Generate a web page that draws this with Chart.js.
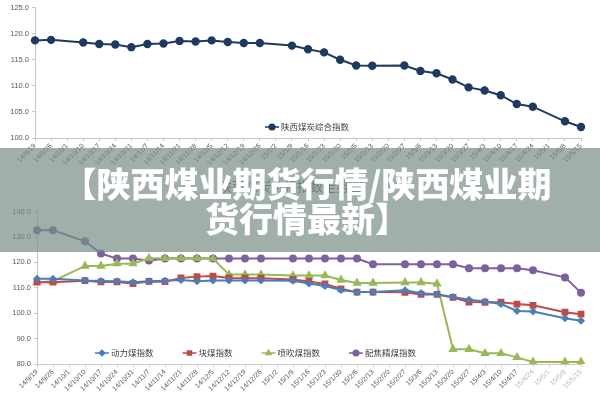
<!DOCTYPE html>
<html lang="zh-CN">
<head>
<meta charset="UTF-8">
<title>陕西煤业期货行情</title>
<style>
  body { margin: 0; background: #fff; }
  #wrap { position: relative; width: 600px; height: 400px; overflow: hidden; }
  #wrap canvas { position: absolute; left: 0; }
  #banner {
    position: absolute; left: 0; top: 148px; width: 600px; height: 104px;
    background: rgba(120, 142, 132, 0.7);
    color: #fff; font-family: "Noto Sans CJK SC", sans-serif; font-weight: 900;
    font-size: 34px; line-height: 35px; text-align: center;
    box-sizing: border-box; padding: 17px 0 0 14px;
  }
</style>
</head>
<body>
<div id="wrap">
  <canvas id="topChart" width="600" height="170" style="top:0"></canvas>
  <canvas id="botChart" width="600" height="230" style="top:170px"></canvas>
  <div id="banner">【陕西煤业期货行情/陕西煤业期<br>货行情最新】</div>
</div>

<script src="https://cdn.jsdelivr.net/npm/chart.js"></script>
<script>
// categorias (semanas)
const datas = ['14/9/19','14/9/26','14/10/1','14/10/10','14/10/17','14/10/24','14/10/31','14/11/7','14/11/14','14/11/21',
  '14/11/28','14/12/5','14/12/12','14/12/19','14/12/26','15/1/2','15/1/9','15/1/16','15/1/23','15/1/30',
  '15/2/6','15/2/13','15/2/20','15/2/27','15/3/6','15/3/13','15/3/20','15/3/27','15/4/3','15/4/10',
  '15/4/17','15/4/24','15/5/1','15/5/8','15/5/15'];

// grafico de cima
const zonghe = [118.7,118.8,null,118.3,118.0,117.9,117.4,118.0,118.1,118.6,
  118.5,118.7,118.4,118.2,118.2,null,117.7,117.0,116.4,115.0,
  113.9,113.85,null,113.9,112.85,112.4,111.2,109.7,109.1,108.2,
  106.5,106.0,null,103.2,102.1];

// grafico de baixo
const dongli = [113.6,113.6,null,112.9,112.7,112.6,112.2,112.6,112.8,113.1,
  112.6,112.9,112.9,112.9,112.9,null,112.8,111.7,110.7,109.1,
  108.3,108.3,null,109.0,107.9,107.5,106.4,105.3,104.6,103.6,
  100.9,100.7,null,98.0,97.0];
const kuai = [112.2,112.2,null,112.8,112.3,112.3,111.7,112.5,112.4,113.9,
  114.4,114.6,113.9,113.8,113.8,null,113.3,112.5,111.5,109.6,
  108.3,108.3,null,108.2,107.4,107.4,106.2,104.4,104.3,104.3,
  103.6,103.1,null,100.4,99.6];
const penchui = [112.2,112.6,null,118.6,118.6,119.5,119.5,121.6,121.6,121.6,
  121.6,121.5,115.2,115.2,115.2,null,114.8,114.8,114.8,113.1,
  111.9,111.9,null,112.1,112.1,111.6,85.8,85.8,84.2,84.2,
  82.6,80.8,null,80.8,80.8];
const peijiao = [132.7,132.7,null,128.3,123.5,121.5,121.5,120.7,121.5,121.5,
  121.5,121.5,121.5,121.5,121.5,null,121.5,121.5,121.5,121.5,
  121.5,119.3,null,119.3,119.3,119.3,119.3,117.7,117.7,117.7,
  117.7,116.9,null,114.1,108.1];

const tickFont = { family: 'Liberation Sans', size: 7 };
const cinza = '#595959';
const eixo = '#c8c8c8';

// legenda desenhada dentro da area do grafico
const legendaDentro = {
  id: 'legendaDentro',
  afterDraw(chart, args, opts) {
    const ctx = chart.ctx;
    let x = opts.x;
    const y = chart.chartArea.bottom - opts.dy;
    ctx.save();
    ctx.font = '8.5px "Noto Sans CJK SC"';
    ctx.textBaseline = 'middle';
    chart.data.datasets.forEach(ds => {
      ctx.strokeStyle = ds.borderColor;
      ctx.lineWidth = 1.5;
      ctx.beginPath(); ctx.moveTo(x, y); ctx.lineTo(x + 14, y); ctx.stroke();
      ctx.fillStyle = ds.pointBackgroundColor;
      Chart.helpers.drawPoint(ctx, { pointStyle: ds.pointStyle, radius: 2.8, rotation: 0, borderWidth: 1 }, x + 7, y);
      ctx.fillStyle = '#404040';
      ctx.fillText(ds.label, x + 16, y);
      x += 16 + ctx.measureText(ds.label).width + opts.gap;
    });
    ctx.restore();
  }
};

function serie(label, data, cor, estilo, raio) {
  return {
    label, data,
    borderColor: cor, backgroundColor: cor,
    pointBackgroundColor: cor, pointBorderColor: cor,
    pointStyle: estilo, pointRadius: raio, pointHoverRadius: raio,
    borderWidth: 2, spanGaps: true, tension: 0
  };
}

function eixoX(altura, cores) {
  return {
    offset: false,
    grid: { drawOnChartArea: false, drawTicks: true, tickLength: 3, color: eixo },
    border: { color: eixo },
    ticks: { font: tickFont, color: cores, minRotation: 45, maxRotation: 45, autoSkip: false, padding: 1 },
    afterFit: s => { s.height = altura; }
  };
}

function eixoY(min, max, passo, largura) {
  return {
    min, max,
    grid: { drawOnChartArea: false, drawTicks: true, tickLength: 3, color: eixo },
    border: { color: eixo },
    ticks: { stepSize: passo, font: { family: 'Liberation Sans', size: 7.5 }, color: cinza, padding: 3,
             callback: v => v.toFixed(1) },
    afterFit: s => { s.width = largura; }
  };
}

new Chart(document.getElementById('topChart'), {
  type: 'line',
  data: {
    labels: datas,
    datasets: [serie('陕西煤炭综合指数', zonghe, '#1f3a5f', 'circle', 3.2)]
  },
  options: {
    responsive: false, animation: false,
    layout: { padding: { top: 0, right: 19, left: 0, bottom: 0 } },
    plugins: { legend: { display: false }, tooltip: { enabled: false },
      legendaDentro: { x: 265, dy: 11, gap: 30 } },
    scales: { x: eixoX(32, cinza), y: eixoY(100, 125, 5, 35) }
  },
  plugins: [legendaDentro]
});

const coresBaixo = datas.map((d, i) => i >= 31 ? '#b8b8b8' : cinza);

new Chart(document.getElementById('botChart'), {
  type: 'line',
  data: {
    labels: datas,
    datasets: [
      serie('动力煤指数', dongli, '#4a7ebb', 'rectRot', 2.6),
      serie('块煤指数', kuai, '#be4b48', 'rect', 3.4),
      serie('喷吹煤指数', penchui, '#98b954', 'triangle', 3.4),
      serie('配焦精煤指数', peijiao, '#7d60a0', 'circle', 3)
    ]
  },
  options: {
    responsive: false, animation: false,
    layout: { padding: { top: 0, right: 19, left: 0, bottom: 0 } },
    plugins: {
      legend: { display: false }, tooltip: { enabled: false },
      title: { display: true, text: '陕西煤炭价格指数走势图', color: cinza,
               font: { family: 'Noto Sans CJK SC', size: 13, weight: 'normal' },
               padding: { top: 8, bottom: 18 } },
      legendaDentro: { x: 95, dy: 11, gap: 29 }
    },
    scales: { x: eixoX(36, coresBaixo), y: eixoY(80, 140, 10, 37) }
  },
  plugins: [legendaDentro]
});
</script>
</body>
</html>
